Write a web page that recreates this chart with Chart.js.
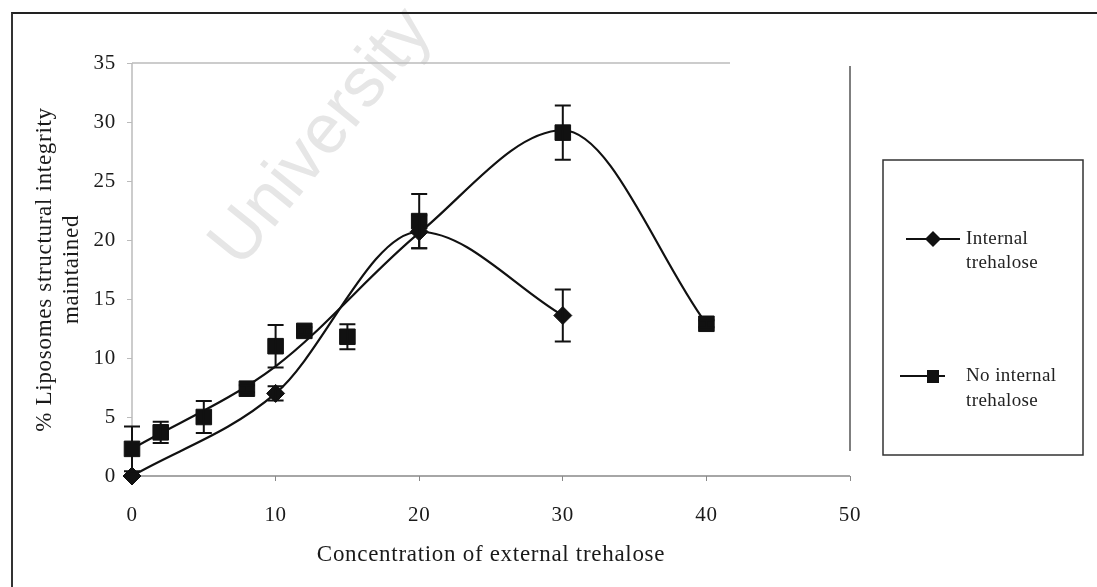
<!DOCTYPE html>
<html>
<head>
<meta charset="utf-8">
<script src="https://cdn.jsdelivr.net/npm/chart.js@4.4.1/dist/chart.umd.min.js"></script>
<style>
  html, body { margin: 0; padding: 0; background: #fff; }
  #wrap { position: relative; width: 1097px; height: 587px; }
  #frame { position: absolute; left: 11px; top: 12px; right: 0; bottom: 0;
           border-top: 2px solid #222; border-left: 2px solid #333; pointer-events: none; }
</style>
</head>
<body>
<div id="wrap">
  <canvas id="chart" width="1097" height="587"></canvas>
  <div id="frame"></div>
</div>
<script>
// data
const concNoInternal = [0, 2, 5, 8, 10, 12, 15, 20, 30, 40];
const integrityNoInternal = [2.3, 3.7, 5.0, 7.4, 11.0, 12.3, 11.8, 21.6, 29.1, 12.9];
const errNoInternal = [1.9, 0.9, 1.35, 0.3, 1.8, 0.3, 1.05, 2.3, 2.3, 0.3];

const concInternal = [0, 10, 20, 30];
const integrityInternal = [0, 7.0, 20.7, 13.6];
const errInternal = [0, 0.6, 1.4, 2.2];

// smoothed trend line of the "no internal" series, as drawn in the figure
const trendNoX = [0, 10, 20, 30, 40];
const trendNoY = [2.3, 9.3, 20.6, 29.3, 12.9];

const xTicks = [0, 10, 20, 30, 40, 50];
const yTicks = [0, 5, 10, 15, 20, 25, 30, 35];

const labelInternal = ['Internal', 'trehalose'];
const labelNoInternal = ['No internal', 'trehalose'];
const xTitle = 'Concentration of external trehalose';
const yTitle = ['% Liposomes structural integrity', 'maintained'];
const watermark = 'University';

const serif = "'Liberation Serif', 'Times New Roman', serif";
const ink = '#111';

function pts(xs, ys) { return xs.map((x, i) => ({ x: x, y: ys[i] })); }

const errorBars = {
  id: 'errorBars',
  afterDatasetsDraw(chart) {
    const ctx = chart.ctx, xs = chart.scales.x, ys = chart.scales.y;
    ctx.save();
    ctx.strokeStyle = ink;
    ctx.lineWidth = 2;
    chart.data.datasets.forEach(ds => {
      if (!ds.errors) return;
      ds.data.forEach((p, i) => {
        const e = ds.errors[i];
        if (!e) return;
        const px = xs.getPixelForValue(p.x);
        const top = ys.getPixelForValue(p.y + e);
        const bot = ys.getPixelForValue(Math.max(0, p.y - e));
        ctx.beginPath();
        ctx.moveTo(px, top); ctx.lineTo(px, bot);
        ctx.moveTo(px - 8, top); ctx.lineTo(px + 8, top);
        ctx.moveTo(px - 8, bot); ctx.lineTo(px + 8, bot);
        ctx.stroke();
      });
    });
    ctx.restore();
  }
};

const decor = {
  id: 'decor',
  beforeDraw(chart) {
    // the scanned lettering is a little wider than Times
    chart.ctx.letterSpacing = '0.7px';
  },
  beforeDatasetsDraw(chart) {
    const ctx = chart.ctx, a = chart.chartArea;
    ctx.save();
    // faint watermark
    ctx.letterSpacing = '0px';
    ctx.translate(322, 138);
    ctx.rotate(-51 * Math.PI / 180);
    ctx.fillStyle = '#e6e6e6';
    ctx.font = "70px 'Liberation Sans', Arial, sans-serif";
    ctx.textAlign = 'center';
    ctx.textBaseline = 'middle';
    ctx.fillText(watermark, 0, 0);
    ctx.restore();

    // plot frame as in the scan
    ctx.save();
    ctx.lineWidth = 1.5;
    ctx.strokeStyle = '#bbb';
    ctx.beginPath(); ctx.moveTo(a.left, a.top); ctx.lineTo(730, a.top); ctx.stroke();
    ctx.beginPath(); ctx.moveTo(a.left, a.top); ctx.lineTo(a.left, a.bottom); ctx.stroke();
    ctx.strokeStyle = '#888';
    ctx.beginPath(); ctx.moveTo(a.left, a.bottom); ctx.lineTo(a.right, a.bottom); ctx.stroke();
    ctx.strokeStyle = '#555';
    ctx.beginPath(); ctx.moveTo(a.right, a.top + 3); ctx.lineTo(a.right, a.bottom - 25); ctx.stroke();
    ctx.restore();
  },
  afterDraw(chart) {
    const ctx = chart.ctx;
    ctx.save();
    // legend box
    ctx.strokeStyle = '#333';
    ctx.lineWidth = 1.5;
    ctx.strokeRect(883, 160, 200, 295);
    ctx.strokeStyle = ink;
    ctx.fillStyle = ink;
    ctx.lineWidth = 2;
    // internal
    ctx.beginPath(); ctx.moveTo(906, 239); ctx.lineTo(960, 239); ctx.stroke();
    ctx.beginPath();
    ctx.moveTo(933, 231); ctx.lineTo(941, 239); ctx.lineTo(933, 247); ctx.lineTo(925, 239);
    ctx.closePath(); ctx.fill();
    // no internal
    ctx.beginPath(); ctx.moveTo(900, 376); ctx.lineTo(945, 376); ctx.stroke();
    ctx.fillRect(927, 370, 12, 13);
    ctx.fillStyle = '#222';
    ctx.font = '19px ' + serif;
    ctx.letterSpacing = '0.4px';
    ctx.textBaseline = 'middle';
    ctx.fillText(labelInternal[0], 966, 239);
    ctx.fillText(labelInternal[1], 966, 263);
    ctx.fillText(labelNoInternal[0], 966, 376);
    ctx.fillText(labelNoInternal[1], 966, 401);
    ctx.restore();
  }
};

new Chart(document.getElementById('chart'), {
  type: 'scatter',
  data: {
    datasets: [
      {
        label: labelInternal.join(' '),
        data: pts(concInternal, integrityInternal),
        errors: errInternal,
        pointStyle: 'rectRot',
        pointRadius: 9,
        backgroundColor: ink,
        borderColor: ink,
        showLine: false,
        clip: false
      },
      {
        label: labelNoInternal.join(' '),
        data: pts(concNoInternal, integrityNoInternal),
        errors: errNoInternal,
        pointStyle: 'rect',
        pointRadius: 11,
        backgroundColor: ink,
        borderColor: ink,
        showLine: false,
        clip: false
      },
      {
        label: 'internal trend',
        data: pts(concInternal, integrityInternal),
        showLine: true,
        pointRadius: 0,
        borderColor: ink,
        borderWidth: 2.2,
        cubicInterpolationMode: 'monotone',
        clip: false
      },
      {
        label: 'no internal trend',
        data: pts(trendNoX, trendNoY),
        showLine: true,
        pointRadius: 0,
        borderColor: ink,
        borderWidth: 2.2,
        cubicInterpolationMode: 'monotone',
        clip: false
      }
    ]
  },
  options: {
    responsive: false,
    animation: false,
    layout: { padding: { left: 0, top: 63, right: 247, bottom: 0 } },
    plugins: { legend: { display: false }, tooltip: { enabled: false } },
    scales: {
      x: {
        type: 'linear', min: 0, max: 50,
        afterFit: s => { s.height = 111; },
        afterBuildTicks: s => { s.ticks = xTicks.map(v => ({ value: v })); },
        grid: { drawOnChartArea: false, drawTicks: true, tickLength: 5, color: '#888' },
        border: { display: false },
        ticks: { color: '#1a1a1a', font: { family: serif, size: 21 }, padding: 22, maxRotation: 0 },
        title: { display: true, text: xTitle, color: '#1a1a1a', font: { family: serif, size: 23 }, padding: { top: 4, bottom: 18 } }
      },
      y: {
        min: 0, max: 35,
        afterFit: s => { s.width = 132; },
        afterBuildTicks: s => { s.ticks = yTicks.map(v => ({ value: v })); },
        grid: { drawOnChartArea: false, drawTicks: true, tickLength: 5, color: '#bbb' },
        border: { display: false },
        ticks: { color: '#1a1a1a', font: { family: serif, size: 21 }, padding: 11 },
        title: { display: true, text: yTitle, color: '#1a1a1a', font: { family: serif, size: 23, lineHeight: 1.2 }, padding: { top: 31, bottom: 31 } }
      }
    }
  },
  plugins: [decor, errorBars]
});
</script>
</body>
</html>
